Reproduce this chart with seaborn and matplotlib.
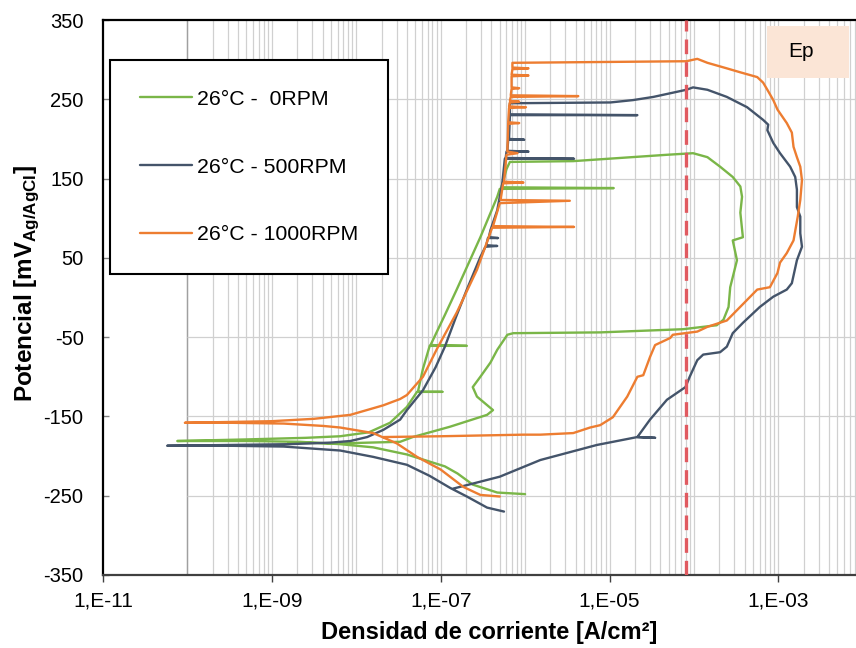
import matplotlib
matplotlib.use('Agg')
import numpy as np
import pandas as pd
import matplotlib.pyplot as plt
import seaborn as sns
from matplotlib.lines import Line2D
from matplotlib.patches import Rectangle
from matplotlib.ticker import FixedLocator, FuncFormatter, NullLocator

# (log10 of current density [A/cm2], potential [mV Ag/AgCl]) in scan order
pts_0rpm = [
    (-6.00, -248), (-6.33, -246), (-6.62, -236), (-6.80, -222), (-6.95, -213), (-7.16, -206),
    (-7.40, -198), (-7.80, -189), (-8.19, -185), (-8.67, -182), (-9.30, -181), (-10.12, -181),
    (-9.30, -179), (-8.60, -177), (-8.19, -175), (-7.85, -170), (-7.60, -158), (-7.40, -138),
    (-7.28, -119), (-6.98, -119), (-7.27, -119), (-7.21, -90), (-7.13, -61), (-6.69, -61),
    (-7.12, -60), (-6.95, -22), (-6.81, 10), (-6.53, 76), (-6.33, 127), (-6.30, 137),
    (-4.95, 138), (-6.28, 139), (-6.25, 150), (-6.22, 162), (-6.18, 171), (-5.43, 172),
    (-4.32, 180), (-4.01, 182), (-3.84, 177), (-3.69, 165), (-3.54, 152), (-3.45, 140),
    (-3.43, 127), (-3.45, 107), (-3.42, 76), (-3.54, 72), (-3.49, 47), (-3.57, 13),
    (-3.59, -12), (-3.65, -28), (-3.73, -35), (-4.13, -40), (-5.11, -44), (-6.14, -45),
    (-6.21, -47), (-6.33, -66), (-6.41, -82), (-6.53, -100), (-6.62, -113), (-6.57, -125),
    (-6.38, -142), (-6.45, -148), (-6.89, -163), (-7.33, -176), (-7.48, -182), (-8.19, -184),
    (-8.80, -183),
]

pts_500rpm = [
    (-6.25, -270), (-6.45, -265), (-6.69, -251), (-6.89, -240), (-7.13, -225), (-7.40, -211),
    (-7.80, -201), (-8.19, -193), (-8.46, -191), (-8.86, -188), (-9.50, -187), (-10.24, -187),
    (-9.50, -186), (-8.80, -185), (-8.30, -183), (-8.07, -181), (-7.87, -176), (-7.68, -167),
    (-7.48, -154), (-7.40, -142), (-7.21, -117), (-7.06, -88), (-6.95, -62), (-6.82, -25),
    (-6.69, 10), (-6.53, 51), (-6.47, 64), (-6.33, 65), (-6.46, 66), (-6.44, 75), (-6.32, 75),
    (-6.43, 76), (-6.41, 85), (-6.33, 110), (-6.27, 144), (-6.24, 175), (-5.42, 175),
    (-6.23, 176), (-6.22, 184), (-5.96, 184), (-6.21, 185), (-6.20, 199), (-6.01, 199),
    (-6.19, 200), (-6.18, 230), (-4.67, 230), (-6.18, 231), (-6.18, 245), (-4.99, 246),
    (-4.72, 249), (-4.48, 253), (-4.09, 262), (-4.01, 265), (-3.84, 262), (-3.61, 253),
    (-3.37, 240), (-3.18, 224), (-3.12, 218), (-3.13, 211), (-3.06, 195), (-2.98, 182),
    (-2.86, 165), (-2.80, 152), (-2.78, 136), (-2.78, 114), (-2.74, 102), (-2.74, 81),
    (-2.72, 64), (-2.78, 47), (-2.84, 18), (-2.90, 10), (-3.06, 1), (-3.22, -12),
    (-3.42, -32), (-3.54, -45), (-3.61, -62), (-3.69, -69), (-3.89, -72), (-3.96, -79),
    (-4.05, -100), (-4.10, -113), (-4.32, -129), (-4.52, -154), (-4.67, -176), (-4.46, -177),
    (-4.67, -176), (-5.15, -186), (-5.82, -205), (-6.30, -226), (-6.85, -241),
]

pts_1000rpm = [
    (-6.30, -251), (-6.53, -249), (-6.73, -239), (-7.00, -217), (-7.28, -201), (-7.52, -184),
    (-7.80, -171), (-8.19, -164), (-8.39, -162), (-8.86, -159), (-9.50, -158), (-10.03, -158),
    (-9.50, -157), (-9.00, -156), (-8.50, -153), (-8.07, -148), (-7.68, -136), (-7.48, -128),
    (-7.40, -123), (-7.21, -100), (-7.04, -64), (-6.81, -19), (-6.57, 35), (-6.39, 88),
    (-5.42, 89), (-6.38, 90), (-6.30, 119), (-5.47, 122), (-6.29, 123), (-6.26, 144),
    (-6.02, 145), (-6.25, 146), (-6.22, 180), (-6.09, 182), (-6.21, 184), (-6.20, 219),
    (-6.07, 220), (-6.20, 221), (-6.19, 239), (-5.99, 240), (-6.19, 241), (-6.18, 246),
    (-6.07, 247), (-6.18, 248), (-6.17, 253), (-5.37, 254), (-6.17, 255), (-6.16, 263),
    (-6.07, 264), (-6.16, 265), (-6.16, 279), (-5.96, 280), (-6.16, 281), (-6.15, 288),
    (-5.96, 289), (-6.15, 290), (-6.15, 296), (-4.09, 298), (-3.96, 301), (-3.84, 296),
    (-3.61, 289), (-3.45, 284), (-3.25, 278), (-3.18, 271), (-3.13, 262), (-3.06, 249),
    (-3.01, 237), (-2.90, 220), (-2.84, 208), (-2.82, 190), (-2.78, 177), (-2.74, 165),
    (-2.72, 148), (-2.74, 123), (-2.77, 102), (-2.82, 72), (-2.90, 56), (-2.98, 44),
    (-3.01, 31), (-3.10, 13), (-3.25, 10), (-3.37, -3), (-3.49, -16), (-3.61, -29),
    (-3.84, -37), (-3.96, -43), (-4.25, -47), (-4.28, -51), (-4.46, -60), (-4.52, -75),
    (-4.60, -98), (-4.67, -100), (-4.79, -125), (-4.96, -151), (-5.11, -161), (-5.23, -164),
    (-5.43, -171), (-5.82, -173), (-6.02, -173), (-7.00, -175), (-7.68, -176),
]

labels = ['26°C -  0RPM', '26°C - 500RPM', '26°C - 1000RPM']
colors = ['#7AB648', '#44546A', '#ED7D31']
ep_current = 8.1e-5  # Ep line
y_ticks = [-350, -250, -150, -50, 50, 150, 250, 350]
x_ticks = [1e-11, 1e-9, 1e-7, 1e-5, 1e-3]

sns.set_theme(style='white')
plt.rcParams['font.family'] = ['Liberation Sans', 'DejaVu Sans']
plt.rcParams['mathtext.fontset'] = 'custom'
plt.rcParams['mathtext.rm'] = 'Liberation Sans'
plt.rcParams['mathtext.bf'] = 'Liberation Sans:bold'
plt.rcParams['axes.unicode_minus'] = False
for key in ['text.color', 'axes.labelcolor', 'xtick.labelcolor', 'ytick.labelcolor']:
    plt.rcParams[key] = 'black'

rows = []
for lab, pts in zip(labels, [pts_0rpm, pts_500rpm, pts_1000rpm]):
    for k, (li, e) in enumerate(pts):
        rows.append({'serie': lab, 'i': 10 ** li, 'E': e, 'k': k})
df = pd.DataFrame(rows)

fig = plt.figure(figsize=(8.56, 6.48), dpi=100)
ax = fig.add_axes([103 / 856, 1 - 575 / 648, 753 / 856, 555 / 648])
ax.set_xscale('log')
xmax = 10 ** -2.08
ax.set_xlim(1e-11, xmax)
ax.set_ylim(-350, 350)

# grid only from 1e-10 on, like the original
grid_x = [m * 10.0 ** d for d in range(-10, -2) for m in range(1, 10)]
grid_x = [g for g in grid_x if g < xmax]
ax.vlines(grid_x, -350, 350, color='#D0D0D0', lw=0.9, zorder=0)
ax.vlines([1e-10], -350, 350, color='#A0A0A0', lw=1.0, zorder=0)
ax.hlines([-250, -150, -50, 50, 150, 250], 1e-10, xmax, color='#D0D0D0', lw=0.9, zorder=0)

sns.lineplot(data=df, x='i', y='E', hue='serie', palette=dict(zip(labels, colors)),
             sort=False, estimator=None, lw=1.7, legend=False, ax=ax)

ax.axvline(ep_current, color='#E05A60', lw=2.4, dashes=(4.4, 2.4), zorder=5)

ax.add_patch(Rectangle((0.882, 0.8955), 0.109, 0.0937, transform=ax.transAxes,
                       facecolor='#FBE5D6', edgecolor='none', zorder=6))
ax.text(0.91, 0.944, 'Ep', transform=ax.transAxes, fontsize=15, va='center', ha='left',
        color='black', zorder=7)

ax.xaxis.set_major_locator(FixedLocator(x_ticks))
ax.xaxis.set_minor_locator(NullLocator())
ax.xaxis.set_major_formatter(FuncFormatter(lambda v, p: '1,E-%02d' % round(-np.log10(v))))
ax.set_yticks(y_ticks)

ax.tick_params(axis='x', direction='out', length=5, width=1, color='#404040', pad=7,
               labelsize=15, labelcolor='black', bottom=True)
ax.tick_params(axis='y', direction='in', length=4, width=1, color='#808080', pad=14,
               labelsize=14.5, labelcolor='black', left=True)

for s in ['left', 'top']:
    ax.spines[s].set_color('black')
    ax.spines[s].set_linewidth(1.6)
ax.spines['bottom'].set_color('#404040')
ax.spines['bottom'].set_linewidth(1.6)
ax.spines['right'].set_visible(False)

ax.set_xlabel('Densidad de corriente [A/cm²]', fontsize=17, fontweight='bold', color='black')
ax.set_ylabel(r'Potencial [mV$_{\mathbf{Ag/AgCl}}$]', fontsize=17.5, fontweight='bold',
              color='black')
ax.xaxis.set_label_coords(0.513, -0.083)
ax.yaxis.set_label_coords(-0.083, 0.525)

handles = [Line2D([0], [0], color=c, lw=1.7) for c in colors]
leg = ax.legend(handles, labels, loc='upper left', bbox_to_anchor=(0.0093, 0.928),
                borderaxespad=0, frameon=True, fancybox=False, edgecolor='black',
                labelspacing=2.3, borderpad=1.4, handlelength=2.45, handletextpad=0.24,
                fontsize=15.3, framealpha=1, labelcolor='black')
leg.get_frame().set_linewidth(1.5)
leg.set_zorder(8)

fig.savefig('out.png', dpi=100)
